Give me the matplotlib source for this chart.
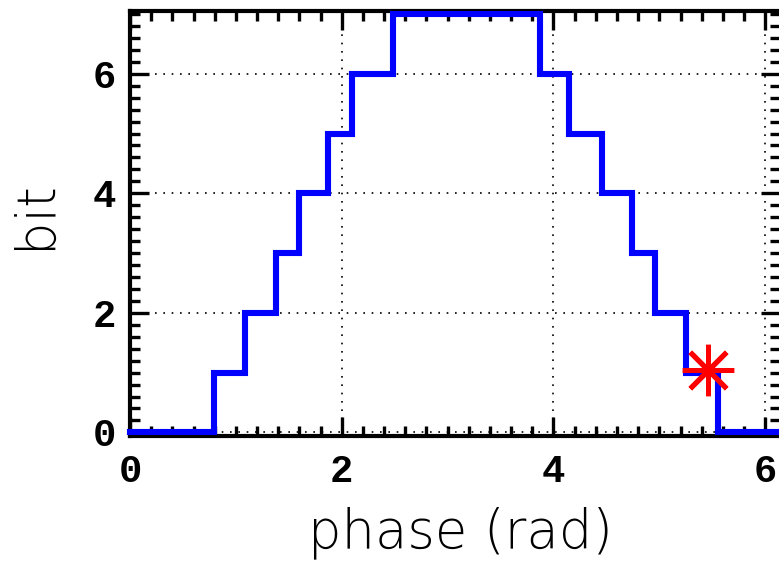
import matplotlib
matplotlib.use("Agg")
import matplotlib.pyplot as plt
from matplotlib.ticker import MultipleLocator

# step transitions (phase, rad) and bit levels
phase_edges = [0.0, 0.79, 1.09, 1.38, 1.60, 1.87, 2.10, 2.48,
               3.87, 4.15, 4.46, 4.74, 4.96, 5.25, 5.55, 6.3]
bit_levels = [0, 1, 2, 3, 4, 5, 6, 7, 6, 5, 4, 3, 2, 1, 0, 0]
star_phase = [5.46]
star_bit = [1.05]
x_ticks = [0, 2, 4, 6]
y_ticks = [0, 2, 4, 6]

fig = plt.figure(figsize=(7.79, 5.63), dpi=100)
ax = fig.add_axes([0.1669, 0.2256, 0.8344, 0.7549])

ax.set_xlim(0, 6.14)
ax.set_ylim(-0.06, 7.05)

ax.plot(phase_edges, bit_levels, drawstyle="steps-post", color=(0, 0, 1),
        lw=4.4, solid_joinstyle="miter", zorder=6, clip_on=False)
ax.plot(star_phase, star_bit, linestyle="none", marker=(8, 2, 0),
        markersize=37, markeredgewidth=3.6, color="red", zorder=7)

ax.set_xticks(x_ticks)
ax.set_yticks(y_ticks)
ax.xaxis.set_minor_locator(MultipleLocator(0.2))
ax.yaxis.set_minor_locator(MultipleLocator(0.2))
ax.grid(True, which="major", color="black", linestyle=(0, (1, 4)), lw=1.2)

ax.tick_params(which="both", direction="in", top=True, right=True,
               width=2.4, color="black")
ax.tick_params(which="major", length=14)
ax.tick_params(which="minor", length=7)
ax.tick_params(axis="x", which="major", pad=13)
ax.tick_params(axis="y", which="major", pad=10)
for s in ax.spines.values():
    s.set_linewidth(3.0)
    s.set_zorder(5)

for lab in ax.get_xticklabels() + ax.get_yticklabels():
    lab.set_fontfamily("Liberation Mono")
    lab.set_fontweight("bold")
    lab.set_fontsize(28)

ax.set_xlabel("phase (rad)", fontsize=38, family="DejaVu Sans",
              fontweight="light", va="center", ha="center")
ax.xaxis.set_label_coords(0.509, -0.228)
ax.set_ylabel("bit", fontsize=38, family="DejaVu Sans",
              fontweight="light", va="center", ha="center")
ax.yaxis.set_label_coords(-0.146, 0.52)

fig.savefig("out.png", dpi=100)
